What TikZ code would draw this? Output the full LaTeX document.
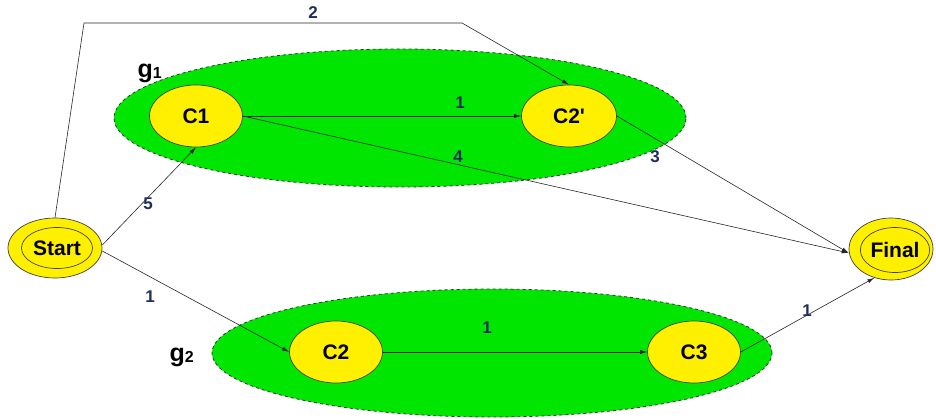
\documentclass[tikz,border=0pt]{standalone}
\usepackage{fontspec}
\setmainfont{Liberation Sans}
\usetikzlibrary{shapes.geometric,arrows.meta}
\definecolor{grn}{RGB}{0,230,0}
\definecolor{yel}{RGB}{255,240,0}
\definecolor{lab}{RGB}{30,45,95}
\tikzset{
  grp/.style={ellipse,draw=black!80,dashed,line width=0.8pt,fill=grn,inner sep=0pt},
  state/.style={ellipse,draw=black!75,line width=0.7pt,fill=yel,inner sep=0pt,font=\fontsize{21}{21}\selectfont\bfseries},
  inner/.style={ellipse,draw=black!75,line width=0.7pt,inner sep=0pt,font=\fontsize{21}{21}\selectfont\bfseries},
  edge/.style={draw=black!85,line width=0.6pt,-{Latex[length=7pt,width=4pt]}},
  wt/.style={text=lab,font=\fontsize{17}{17}\selectfont\bfseries},
  glab/.style={font=\fontsize{25}{25}\selectfont\bfseries}
}
\begin{document}
\begin{tikzpicture}[x=1pt,y=-1pt]
\useasboundingbox (0,0) rectangle (936,419);
% groups
\node[grp,minimum width=572pt,minimum height=138pt] (g1) at (400,118) {};
\node[grp,minimum width=560pt,minimum height=128pt] (g2) at (492,353) {};
\node[glab,anchor=base west] (g1l) at (134,78) {g\raisebox{-1pt}{\fontsize{16}{16}\selectfont 1}};
\node[glab,anchor=base west] (g2l) at (166,361) {g\raisebox{-1pt}{\fontsize{16}{16}\selectfont 2}};
% states
\node[state,minimum width=94pt,minimum height=60pt] (start) at (55,248) {};
\node[inner,minimum width=71pt,minimum height=41pt] (starti) at (57,248) {Start};
\node[state,minimum width=84pt,minimum height=62pt] (final) at (891,249) {};
\node[inner,minimum width=65pt,minimum height=45pt] (finali) at (895,250) {Final};
\node[state,minimum width=93pt,minimum height=62pt] (c1) at (196,116) {C1};
\node[state,minimum width=95pt,minimum height=62pt] (c2p) at (569,116) {C2\textquotesingle};
\node[state,minimum width=93pt,minimum height=62pt] (c2) at (336,352) {C2};
\node[state,minimum width=93pt,minimum height=62pt] (c3) at (694,352) {C3};
% corners of edge 2
\coordinate (k1) at (84,23);
\coordinate (k2) at (462,23);
% edges
\draw[edge] (start.north) -- (k1) -- (k2) -- (c2p.north);
\draw[edge] (start.east) ++(0,-3) coordinate (s1) -- (c1.south);
\draw[edge] (start.east) ++(0,3) coordinate (s2) -- (c2.west);
\draw[edge] (c1.east) -- (c2p.west);
\draw[edge] (c1.east) -- ([yshift=-4pt]final.west);
\draw[edge] (c2p.east) -- ([yshift=-4pt]final.west);
\draw[edge] (c2.east) -- (c3.west);
\draw[edge] (c3.east) -- (final.-120);
% weights
\node[wt] (w2) at (313,13) {2};
\node[wt] (w5) at (148,204) {5};
\node[wt] (w1a) at (150,297) {1};
\node[wt] (w1b) at (460,103) {1};
\node[wt] (w4) at (458,157) {4};
\node[wt] (w3) at (655,157) {3};
\node[wt] (w1c) at (487,328) {1};
\node[wt] (w1d) at (807,311) {1};
\end{tikzpicture}
\end{document}
